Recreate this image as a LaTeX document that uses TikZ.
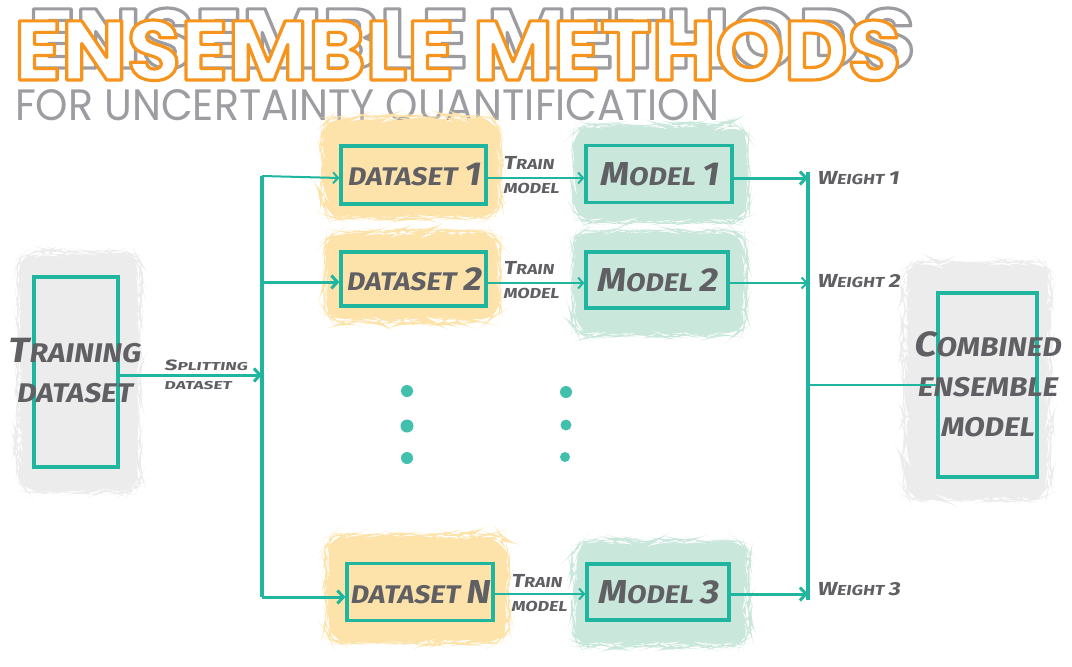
\documentclass[tikz,border=0pt]{standalone}
\usepackage{fontspec}
\usetikzlibrary{arrows.meta,decorations.pathmorphing}
\newfontfamily\titlefont{Poppins}
\newfontfamily\handbig[FakeSlant=0.15,FakeStretch=1.1]{Fira Sans Bold}
\newfontfamily\handw[FakeSlant=0.15,FakeStretch=1.22]{Fira Sans Bold}
\newfontfamily\handww[FakeSlant=0.15,FakeStretch=1.5]{Fira Sans Bold}
\definecolor{tealc}{HTML}{20B59E}
\definecolor{txtgray}{HTML}{606064}
\definecolor{yblob}{HTML}{FDE3AA}
\definecolor{gblob}{HTML}{C9E7DB}
\definecolor{grblob}{HTML}{ECECED}
\definecolor{torange}{HTML}{F7941E}
\definecolor{tgray}{HTML}{9D9DA1}
\newcommand\BL[1]{\scalebox{1.3}{#1}}
\newcommand\outlinetext[2]{{\color{#1}\special{pdf:literal direct 1 1 1 rg 2 Tr 3 w 1 j}#2\special{pdf:literal direct 0 Tr}}}
\tikzset{
  blob/.style={fill=#1, decorate, decoration={random steps, segment length=5pt, amplitude=1.4pt}, rounded corners=18pt},
  box/.style={draw=tealc, line width=3.2pt, inner sep=0pt},
  lbl/.style={text=txtgray, inner sep=0pt, font=\handbig\fontsize{25.5}{40}\selectfont, align=center},
  lblb/.style={text=txtgray, inner sep=0pt, font=\handbig\fontsize{27}{40}\selectfont, align=center},
  small/.style={text=txtgray, inner sep=0pt, align=left, font=\handw\fontsize{14.5}{24}\selectfont},
  wire/.style={draw=tealc, line width=3.2pt},
  arr/.style={draw=tealc, line width=3pt, -{Straight Barb[length=6pt,width=13pt]}},
  thinarr/.style={draw=tealc, line width=2pt, -{Straight Barb[length=5pt,width=11pt]}},
  dot/.style={circle, fill=tealc!85, inner sep=0pt, minimum size=#1}
}
\begin{document}
\begin{tikzpicture}[x=1pt,y=-1pt]
\useasboundingbox (0,0) rectangle (1072,667);
\pgfmathsetseed{7}
% title
\node[anchor=base west, inner sep=0] (tshadow) at (28,68) {\resizebox{887pt}{60pt}{\titlefont\bfseries\fontsize{80}{80}\selectfont\outlinetext{tgray}{ENSEMBLE METHODS}}};
\node[anchor=base west, inner sep=0] (title) at (14,80) {\resizebox{887pt}{60pt}{\titlefont\bfseries\fontsize{80}{80}\selectfont\outlinetext{torange}{ENSEMBLE METHODS}}};
\node[anchor=base west, inner sep=0] (subtitle) at (15,120) {\resizebox{704pt}{31pt}{\titlefont\color{tgray}FOR UNCERTAINTY QUANTIFICATION}};
% blobs
\path[blob=grblob] (18,252) rectangle (140,492);
\path[blob=grblob] (904,262) rectangle (1050,500);
\path[blob=yblob] (322,117) rectangle (500,218);
\path[blob=yblob] (325,232) rectangle (500,322);
\path[blob=yblob] (326,535) rectangle (508,643);
\path[blob=gblob] (573,125) rectangle (748,222);
\path[blob=gblob] (573,231) rectangle (746,335);
\path[blob=gblob] (573,541) rectangle (748,646);
% boxes
\node[box, minimum width=84pt, minimum height=190pt] (train) at (76,372) {};
\node[box, minimum width=99pt, minimum height=184pt] (comb) at (987.5,385) {};
\node[box, minimum width=145pt, minimum height=58pt, lbl] (d1) at (413.5,175) {DATASET \BL{1}};
\node[box, minimum width=145pt, minimum height=54pt, lbl] (d2) at (413.5,279) {DATASET \BL{2}};
\node[box, minimum width=146pt, minimum height=57pt, lbl] (dN) at (420,592) {DATASET \BL{N}};
\node[box, minimum width=146pt, minimum height=57pt, lbl] (m1) at (659,174) {\BL{M}ODEL \BL{1}};
\node[box, minimum width=142pt, minimum height=56pt, lbl] (m2) at (657,280) {\BL{M}ODEL \BL{2}};
\node[box, minimum width=142pt, minimum height=56pt, lbl] (m3) at (658,592) {\BL{M}ODEL \BL{3}};
% big labels
\node[lblb] (trainT) at (74,371) {\BL{T}RAINING\\DATASET};
\node[lblb] (combT) at (987,384) {\BL{C}OMBINED\\ENSEMBLE\\MODEL};
% split wires
\coordinate (sTop) at (262,176);
\coordinate (sBot) at (262,597);
\coordinate (rTop) at (808,172);
\coordinate (rBot) at (808,600);
\draw[wire] (sTop) -- (sBot);
\draw[wire] (rTop) -- (rBot);
\draw[arr] (train.east |- 0,375) -- (sTop |- 0,375);
\draw[thinarr] (sTop) -- (d1.west |- 0,178);
\draw[arr] (sTop |- 0,282) -- (d2.west |- 0,282);
\draw[arr] (sBot) -- (dN.west |- 0,597);
\draw[thinarr] (d1.east |- 0,178) -- (m1.west |- 0,178);
\draw[thinarr] (d2.east |- 0,283) -- (m2.west |- 0,283);
\draw[thinarr] (dN.east |- 0,594) -- (m3.west |- 0,594);
\draw[arr] (m1.east |- 0,178) -- (rTop |- 0,178);
\draw[thinarr] (m2.east |- 0,283) -- (rTop |- 0,283);
\draw[arr] (m3.east |- 0,594) -- (rTop |- 0,594);
\draw[draw=tealc, line width=2.4pt] (rTop |- comb.west) -- (comb.west);
% small labels
\node[small, anchor=west, font=\handww\fontsize{11.5}{19}\selectfont] (split) at (164,375) {\BL{S}PLITTING\\DATASET};
\node[small, anchor=west] (tm1) at (503,175) {\BL{T}RAIN\\MODEL};
\node[small, anchor=west] (tm2) at (503,280) {\BL{T}RAIN\\MODEL};
\node[small, anchor=west] (tm3) at (511,593) {\BL{T}RAIN\\MODEL};
\node[small, anchor=west] (w1) at (817,178) {\BL{W}EIGHT \BL{1}};
\node[small, anchor=west] (w2) at (817,281) {\BL{W}EIGHT \BL{2}};
\node[small, anchor=west] (w3) at (817,589) {\BL{W}EIGHT \BL{3}};
% dots
\node[dot=12pt] (a1) at (407,391) {};
\node[dot=13pt] (a2) at (407,426) {};
\node[dot=12pt] (a3) at (407,458) {};
\node[dot=12pt] (b1) at (566,392) {};
\node[dot=11pt] (b2) at (566,425) {};
\node[dot=10pt] (b3) at (565,457) {};
\end{tikzpicture}
\end{document}
